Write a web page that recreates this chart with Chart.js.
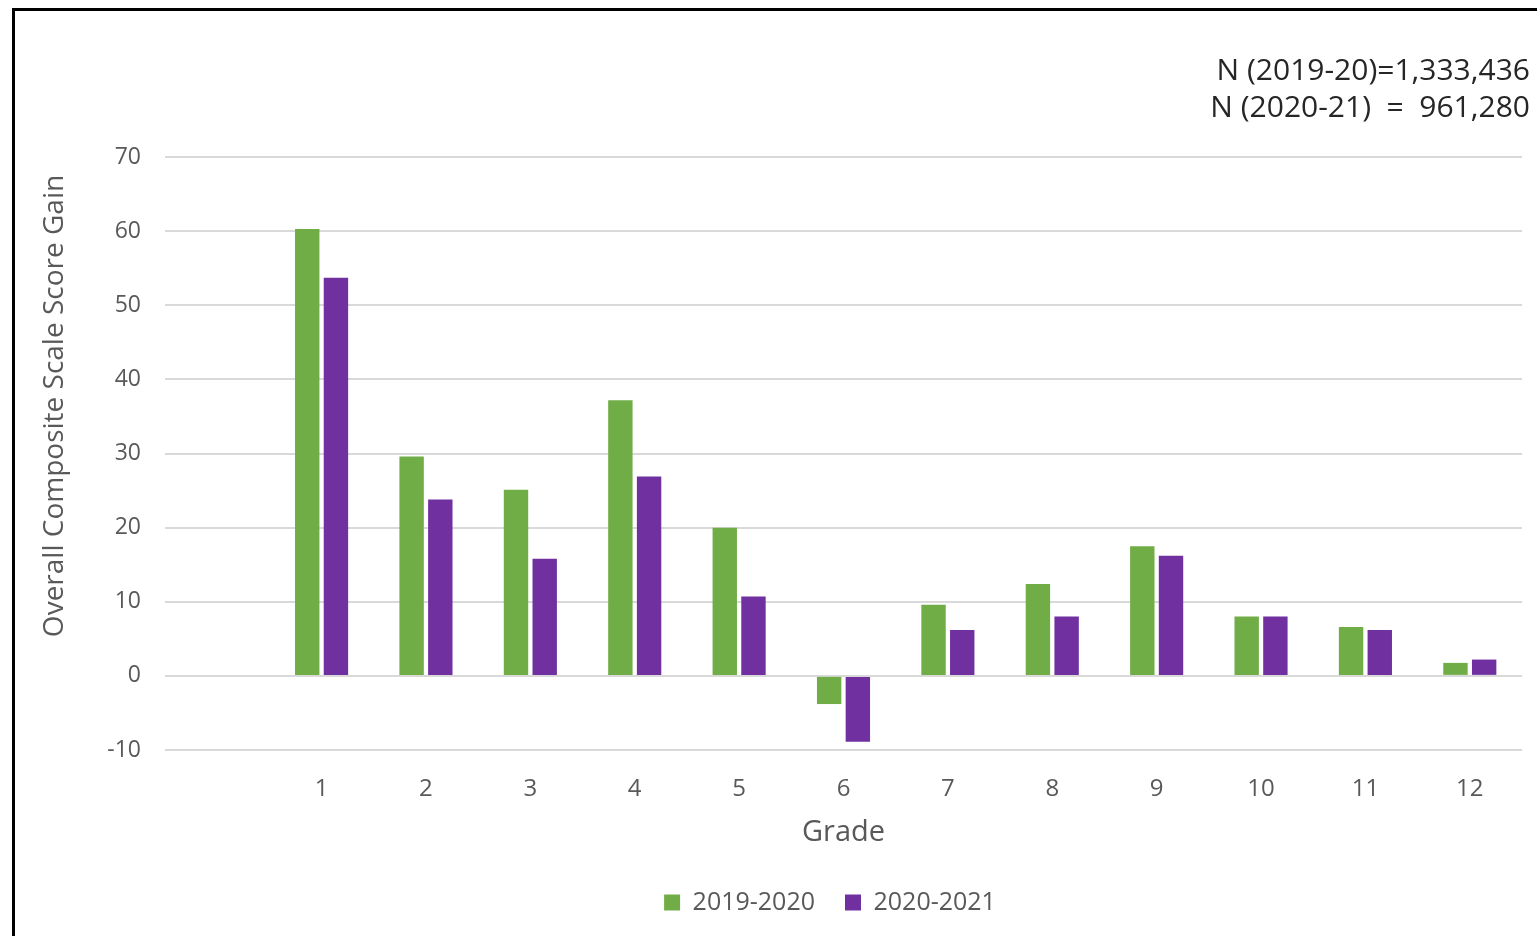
<!DOCTYPE html>
<html>
<head>
<meta charset="utf-8">
<script src="https://cdn.jsdelivr.net/npm/chart.js@4.4.1/dist/chart.umd.min.js"></script>
<style>
    html, body { margin: 0; padding: 0; background: #fff; overflow: hidden; }
    #frame { position: absolute; left: 12px; top: 8px; width: 1600px; height: 1000px; border: 3px solid #000; }
    #chart { position: absolute; left: 0; top: 0; }
</style>
</head>
<body>
<div id="frame"></div>
<canvas id="chart" width="1537" height="936"></canvas>
<script>
// grades (first slot is empty, as in the original)
const grades = ['', '1', '2', '3', '4', '5', '6', '7', '8', '9', '10', '11', '12'];
const gain2019 = [null, 60.3, 29.6, 25.1, 37.2, 20.0, -3.8, 9.6, 12.4, 17.5, 8.0, 6.6, 1.75];
const gain2020 = [null, 53.7, 23.8, 15.8, 26.9, 10.7, -8.9, 6.2, 8.0, 16.2, 8.0, 6.2, 2.2];
const seriesNames = ['2019-2020', '2020-2021'];
const yTitle = 'Overall Composite Scale Score Gain';
const noteLines = ['N (2019-20)=1,333,436', 'N (2020-21)  =  961,280'];

const FONT = "'Open Sans', sans-serif";

// N counts in the top right corner + the y axis title (it sits above the axis middle)
const textPlugin = {
    id: 'extraText',
    beforeDraw(chart) {
        // legend is centred a bit right of the canvas middle
        chart.legend.left = 138;
        chart.legend.right = 1522;
    },
    afterDraw(chart) {
        const ctx = chart.ctx;
        ctx.save();
        ctx.font = '30px ' + FONT;
        ctx.fillStyle = '#262626';
        ctx.textAlign = 'right';
        ctx.textBaseline = 'middle';
        ctx.fillText(noteLines[0], 1530, 71);
        ctx.fillText(noteLines[1], 1530, 108);

        ctx.translate(55, 406);
        ctx.rotate(-Math.PI / 2);
        ctx.textAlign = 'center';
        ctx.font = '28px ' + FONT;
        ctx.fillStyle = '#595959';
        ctx.fillText(yTitle, 0, 0);
        ctx.restore();
    }
};

new Chart(document.getElementById('chart'), {
    type: 'bar',
    data: {
        labels: grades,
        datasets: [{
            label: seriesNames[0],
            data: gain2019,
            backgroundColor: '#70ad47'
        }, {
            label: seriesNames[1],
            data: gain2020,
            backgroundColor: '#7030a0'
        }]
    },
    options: {
        responsive: false,
        animation: false,
        categoryPercentage: 0.55,
        barPercentage: 0.85,
        layout: { padding: { top: 157, right: 15, left: 0, bottom: 11 } },
        plugins: {
            legend: {
                position: 'bottom',
                labels: {
                    boxWidth: 16,
                    boxHeight: 16,
                    padding: 30,
                    color: '#595959',
                    font: { family: FONT, size: 25 }
                }
            },
            tooltip: { enabled: false }
        },
        scales: {
            x: {
                grid: { display: false },
                border: { display: false },
                ticks: {
                    color: '#595959',
                    padding: 17,
                    font: { family: FONT, size: 24 }
                },
                title: {
                    display: true,
                    text: 'Grade',
                    color: '#595959',
                    padding: { top: 4, bottom: 10 },
                    font: { family: FONT, size: 29 }
                },
                afterFit(scale) { scale.height = 110; }
            },
            y: {
                min: -10,
                max: 70,
                ticks: {
                    stepSize: 10,
                    color: '#595959',
                    padding: 24,
                    font: { family: FONT, size: 23 }
                },
                grid: { color: '#d9d9d9', lineWidth: 2, drawTicks: false },
                border: { display: false },
                afterFit(scale) { scale.width = 165; }
            }
        }
    },
    plugins: [textPlugin]
});
</script>
</body>
</html>
